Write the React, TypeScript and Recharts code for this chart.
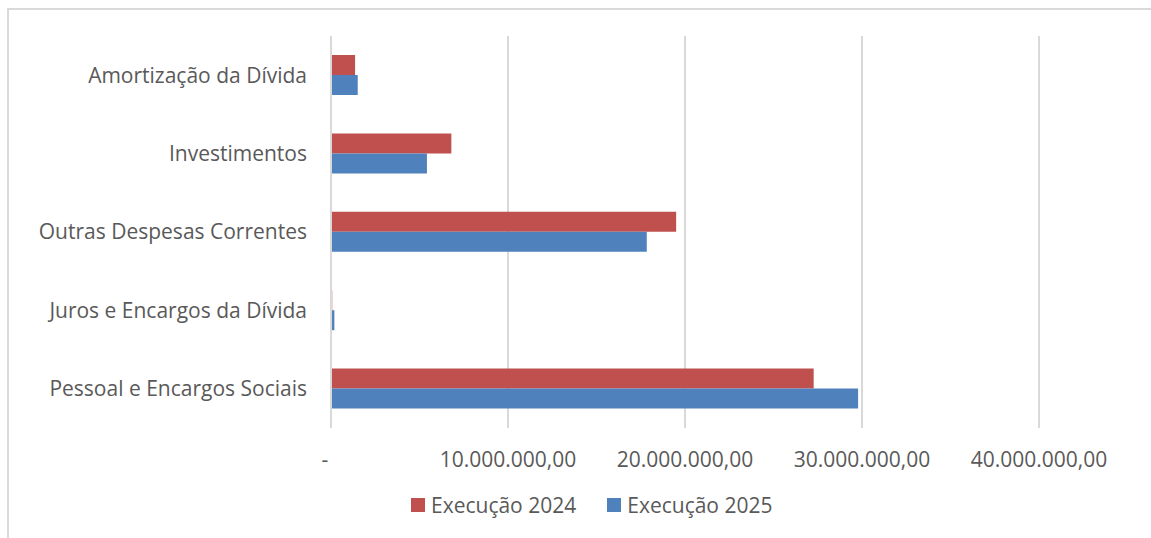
import React from 'react';
import { BarChart, Bar, XAxis, YAxis, CartesianGrid, Legend } from 'recharts';

// categorias de despesa (de cima para baixo)
const categories = [
  'Amortização da Dívida',
  'Investimentos',
  'Outras Despesas Correntes',
  'Juros e Encargos da Dívida',
  'Pessoal e Encargos Sociais',
];

const execucao2024 = [1360000, 6800000, 19500000, 70000, 27270000];
const execucao2025 = [1510000, 5420000, 17840000, 190000, 29780000];

const xTicks = [0, 10000000, 20000000, 30000000, 40000000];

const data = categories.map((name, i) => ({
  name,
  e2024: execucao2024[i],
  e2025: execucao2025[i],
}));

const FONT = '"Open Sans", sans-serif';
const TEXT = '#595959';
const GRID = '#d9d9d9';
const RED = '#C0504D';
const BLUE = '#4F81BD';

// formato contábil pt-BR: 10.000.000,00 e "-" para zero
function formatBRL(v: number) {
  if (v === 0) return '-';
  const int = Math.floor(v).toString().replace(/\B(?=(\d{3})+(?!\d))/g, '.');
  return `${int},00`;
}

function XTick(props: any) {
  const { x, y, payload } = props;
  const shift = payload.value === 0 ? -6 : 0;
  return (
    <text
      x={x + shift}
      y={y}
      dy="0.71em"
      textAnchor="middle"
      fill={TEXT}
      fontSize={21}
      fontFamily={FONT}
    >
      {formatBRL(payload.value)}
    </text>
  );
}

const legendItems = [
  { label: 'Execução 2024', color: RED },
  { label: 'Execução 2025', color: BLUE },
];

function renderLegend() {
  return (
    <div style={{ display: 'flex', alignItems: 'center', fontFamily: FONT, fontSize: 21, color: TEXT }}>
      {legendItems.map((it, i) => (
        <div key={it.label} style={{ display: 'flex', alignItems: 'center', marginRight: i === 0 ? 31 : 0 }}>
          <span style={{ display: 'inline-block', width: 14, height: 14, background: it.color, marginRight: 6 }} />
          <span style={{ lineHeight: '24px' }}>{it.label}</span>
        </div>
      ))}
    </div>
  );
}

export default function App() {
  return (
    <div
      style={{
        position: 'fixed',
        left: 0,
        top: 0,
        width: 1151,
        height: 538,
        overflow: 'hidden',
        background: '#fff',
      }}
    >
      <div
        style={{
          position: 'absolute',
          left: 7,
          top: 8,
          width: 1300,
          height: 700,
          border: `2px solid ${GRID}`,
          boxSizing: 'border-box',
        }}
      />
      <div style={{ position: 'absolute', left: 0, top: 0 }}>
        <BarChart
          width={1151}
          height={538}
          data={data}
          layout="vertical"
          barSize={20}
          barGap={0}
          margin={{ top: 36, right: 112, bottom: 80, left: 0 }}
        >
          <CartesianGrid horizontal={false} stroke={GRID} strokeWidth={2} />
          <XAxis
            type="number"
            domain={[0, 40000000]}
            ticks={xTicks}
            height={30}
            axisLine={false}
            tickLine={false}
            tickMargin={18}
            tick={<XTick />}
            interval={0}
          />
          <YAxis
            type="category"
            dataKey="name"
            width={331}
            axisLine={{ stroke: GRID, strokeWidth: 2 }}
            tickLine={false}
            tickMargin={18}
            tick={{ fill: TEXT, fontSize: 21, fontFamily: FONT }}
            interval={0}
          />
          <Legend
            layout="horizontal"
            verticalAlign="middle"
            align="center"
            content={renderLegend}
            wrapperStyle={{ left: 411, top: 493, width: 400, height: 24 }}
          />
          <Bar dataKey="e2024" name="Execução 2024" fill={RED} isAnimationActive={false} />
          <Bar dataKey="e2025" name="Execução 2025" fill={BLUE} isAnimationActive={false} />
        </BarChart>
      </div>
    </div>
  );
}
